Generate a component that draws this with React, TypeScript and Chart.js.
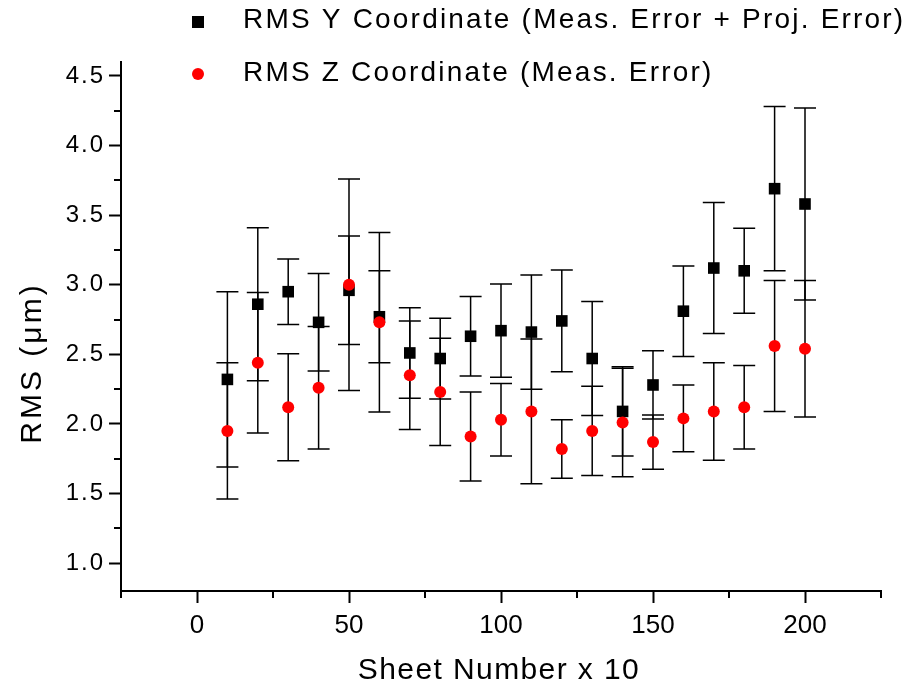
import React, { useEffect, useRef } from "react";
import { Chart, registerables } from "chart.js";

Chart.register(...registerables);

// ---------- data ----------
const sheetNumbers = [10, 20, 30, 40, 50, 60, 70, 80, 90, 100, 110, 120, 130, 140, 150, 160, 170, 180, 190, 200];
const rmsY = [2.32, 2.86, 2.95, 2.73, 2.96, 2.77, 2.51, 2.47, 2.63, 2.67, 2.66, 2.74, 2.47, 2.09, 2.28, 2.81, 3.12, 3.10, 3.69, 3.58];
const rmsYErr = [0.63, 0.55, 0.235, 0.35, 0.39, 0.33, 0.325, 0.29, 0.285, 0.335, 0.41, 0.365, 0.41, 0.32, 0.245, 0.325, 0.47, 0.305, 0.59, 0.69];
const rmsZ = [1.95, 2.44, 2.12, 2.26, 3.0, 2.73, 2.35, 2.23, 1.91, 2.03, 2.09, 1.82, 1.95, 2.01, 1.87, 2.04, 2.09, 2.12, 2.56, 2.54];
const rmsZErr = [0.49, 0.505, 0.385, 0.44, 0.76, 0.645, 0.39, 0.385, 0.32, 0.26, 0.52, 0.21, 0.32, 0.39, 0.195, 0.24, 0.35, 0.3, 0.47, 0.49];

const xTickValues = [0, 50, 100, 150, 200];
const xMinorTickValues = [-25, 25, 75, 125, 175, 225];
const yTickValues = [1.0, 1.5, 2.0, 2.5, 3.0, 3.5, 4.0, 4.5];
const yMinorTickValues = [1.25, 1.75, 2.25, 2.75, 3.25, 3.75, 4.25];

const legendLabels = ["RMS Y Coordinate (Meas. Error + Proj. Error)", "RMS Z Coordinate (Meas. Error)"];
const xTitle = "Sheet Number x 10";
const yTitle = "RMS (\u03bcm)";

const FONT = '"Liberation Sans", Arial, sans-serif';

export default function App() {
  const canvasRef = useRef<HTMLCanvasElement | null>(null);

  useEffect(() => {
    const canvas = canvasRef.current;
    if (!canvas) return;
    const errorSets = [rmsYErr, rmsZErr];

    const decor = {
      id: "decor",
      beforeDraw(chart: any) {
        const ys = chart.scales.y;
        if (ys && !ys.__wrapped) {
          const orig = ys.drawLabels;
          ys.drawLabels = function (area: any) {
            const c = this.ctx;
            const prev = c.letterSpacing;
            c.letterSpacing = "2px";
            orig.call(this, area);
            c.letterSpacing = prev;
          };
          ys.__wrapped = true;
        }
      },
      beforeDatasetsDraw(chart: any) {
        const ctx = chart.ctx;
        const xs = chart.scales.x;
        const ys = chart.scales.y;
        ctx.save();
        ctx.strokeStyle = "#000";
        ctx.lineWidth = 1.5;
        chart.data.datasets.forEach((ds: any, di: number) => {
          const errs = errorSets[di];
          ds.data.forEach((p: any, i: number) => {
            const px = xs.getPixelForValue(p.x);
            const top = ys.getPixelForValue(p.y + errs[i]);
            const bot = ys.getPixelForValue(p.y - errs[i]);
            ctx.beginPath();
            ctx.moveTo(px, top);
            ctx.lineTo(px, bot);
            ctx.moveTo(px - 11, top);
            ctx.lineTo(px + 11, top);
            ctx.moveTo(px - 11, bot);
            ctx.lineTo(px + 11, bot);
            ctx.stroke();
          });
        });
        ctx.restore();
      },
      afterDraw(chart: any) {
        const ctx = chart.ctx;
        const xs = chart.scales.x;
        const ys = chart.scales.y;
        const area = chart.chartArea;
        ctx.save();
        // minor ticks
        ctx.strokeStyle = "#000";
        ctx.lineWidth = 2;
        ctx.beginPath();
        yMinorTickValues.forEach((v) => {
          const py = Math.round(ys.getPixelForValue(v));
          ctx.moveTo(area.left - 7, py);
          ctx.lineTo(area.left, py);
        });
        xMinorTickValues.forEach((v) => {
          const px = Math.round(xs.getPixelForValue(v));
          ctx.moveTo(px, area.bottom);
          ctx.lineTo(px, area.bottom + 7);
        });
        ctx.stroke();

        // legend
        ctx.fillStyle = "#000";
        ctx.fillRect(198 - 6, 22 - 6, 12, 12);
        ctx.fillStyle = "#ff0000";
        ctx.beginPath();
        ctx.arc(198, 74, 6, 0, Math.PI * 2);
        ctx.fill();
        ctx.fillStyle = "#000";
        ctx.font = `28px ${FONT}`;
        ctx.textAlign = "left";
        ctx.textBaseline = "middle";
        (ctx as any).letterSpacing = "2.2px";
        ctx.fillText(legendLabels[0], 243, 20);
        ctx.fillText(legendLabels[1], 243, 73);

        // x title
        ctx.font = `30px ${FONT}`;
        (ctx as any).letterSpacing = "1.4px";
        ctx.textAlign = "center";
        ctx.fillText(xTitle, (area.left + area.right) / 2 - 2, 671);

        // y title
        (ctx as any).letterSpacing = "3px";
        ctx.translate(33, 363);
        ctx.rotate(-Math.PI / 2);
        ctx.fillText(yTitle, 0, 0);
        ctx.restore();
      },
    };

    const chart = new Chart(canvas, {
      type: "scatter",
      data: {
        datasets: [
          {
            label: legendLabels[0],
            data: sheetNumbers.map((x, i) => ({ x, y: rmsY[i] })),
            pointStyle: "rect",
            pointRadius: 8.2,
            backgroundColor: "#000000",
            borderWidth: 0,
            order: 2,
          },
          {
            label: legendLabels[1],
            data: sheetNumbers.map((x, i) => ({ x, y: rmsZ[i] })),
            pointStyle: "circle",
            pointRadius: 6,
            backgroundColor: "#ff0000",
            borderWidth: 0,
            order: 1,
          },
        ],
      },
      options: {
        animation: false,
        responsive: false,
        devicePixelRatio: 1,
        layout: { padding: { left: 0, right: 31, top: 62, bottom: 0 } },
        plugins: { legend: { display: false }, tooltip: { enabled: false } },
        scales: {
          x: {
            type: "linear",
            min: -25,
            max: 225,
            afterBuildTicks: (s: any) => {
              s.ticks = xTickValues.map((v) => ({ value: v }));
            },
            afterFit: (s: any) => {
              s.height = 97;
            },
            grid: { display: true, drawOnChartArea: false, drawTicks: true, tickLength: 12, tickWidth: 2, tickColor: "#000" },
            border: { display: true, color: "#000", width: 2 },
            ticks: {
              font: { family: FONT, size: 26 },
              color: "#000",
              padding: 7,
              maxRotation: 0,
              autoSkip: false,
              callback: (v: any) => String(v),
            },
          },
          y: {
            type: "linear",
            min: 0.8,
            max: 4.6,
            afterBuildTicks: (s: any) => {
              s.ticks = yTickValues.map((v) => ({ value: v }));
            },
            afterFit: (s: any) => {
              s.width = 121;
            },
            grid: { display: true, drawOnChartArea: false, drawTicks: true, tickLength: 12, tickWidth: 2, tickColor: "#000" },
            border: { display: true, color: "#000", width: 2 },
            ticks: {
              font: { family: FONT, size: 24 },
              color: "#000",
              padding: 4,
              autoSkip: false,
              callback: (v: any) => Number(v).toFixed(1),
            },
          },
        },
      },
      plugins: [decor],
    } as any);

    return () => chart.destroy();
  }, []);

  return (
    <div style={{ position: "fixed", left: 0, top: 0, width: 912, height: 688, background: "#fff" }}>
      <canvas ref={canvasRef} width={912} height={688} style={{ display: "block" }} />
    </div>
  );
}
